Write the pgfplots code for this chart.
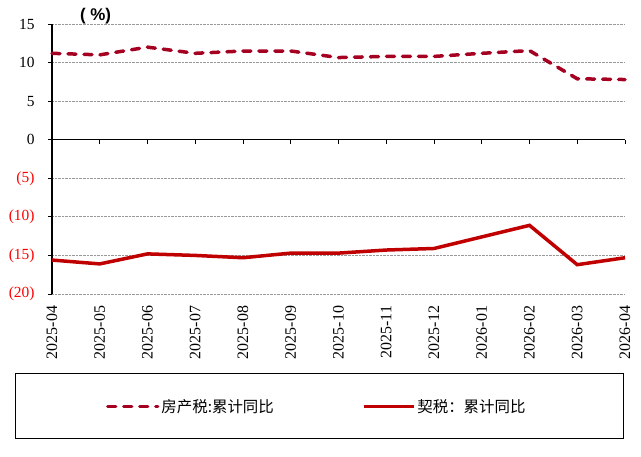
\documentclass[border=0pt]{standalone}
\usepackage{pgfplots}
\pgfplotsset{compat=1.18}
\usepackage{fontspec}
\setmainfont{Liberation Serif}
\newfontfamily\cjk{Noto Sans CJK SC}
\newfontfamily\arialf{Liberation Sans}
\definecolor{dred}{HTML}{A50021}
\definecolor{sred}{HTML}{C00000}
\begin{document}
\begin{tikzpicture}
\path (0,0) rectangle (641bp,457bp);
\draw[line width=1bp] (15bp,18bp) rectangle (623bp,83bp);
\begin{axis}[
  at={(52bp,163bp)}, anchor=south west, scale only axis,
  width=573bp, height=270bp,
  xmin=0, xmax=12, ymin=-20, ymax=15,
  axis x line*=middle, axis y line*=left,
  hide obscured x ticks=false, hide obscured y ticks=false,
  axis line style={line width=1.2bp, black},
  xtick={0,...,12},
  xticklabels={2025-04,2025-05,2025-06,2025-07,2025-08,2025-09,2025-10,2025-11,2025-12,2026-01,2026-02,2026-03,2026-04},
  xticklabel style={rotate=90, anchor=east, font=\fontsize{16}{18}\selectfont, inner sep=1bp},
  xticklabel shift=161bp,
  xtick align=outside,
  ytick={-20,-15,-10,-5,0,5,10,15},
  yticklabels={{\textcolor{red}{(20)}},{\textcolor{red}{(15)}},{\textcolor{red}{(10)}},{\textcolor{red}{(5)}},0,5,10,15},
  yticklabel style={font=\fontsize{15.5}{17}\selectfont, xshift=-10bp},
  ytick align=outside,
  major tick length=4bp,
  tick style={black, line width=1bp},
  ymajorgrids,
  major grid style={densely dotted, gray!80, line width=0.9bp},
  legend columns=2,
  legend style={draw=none, fill=none, at={(axis description cs:0.462,-0.4167)}, anchor=center,
     font=\fontsize{15.5}{17}\selectfont, /tikz/every even column/.append style={column sep=86bp}},
  legend image code/.code={\draw[#1] (0bp,0bp) -- (50bp,0bp);},
  clip=false,
]
\addplot[dred, line width=3.5bp, line cap=round, dash pattern=on 8bp off 8bp] coordinates {
(0,11.2) (1,11.0) (2,12.0) (3,11.2) (4,11.5) (5,11.5) (6,10.65) (7,10.8) (8,10.8) (9,11.2) (10,11.55) (11,7.9) (12,7.8)};
\addlegendentry{\cjk 房产税:累计同比}
\addplot[sred, line width=3.5bp] coordinates {
(0,-15.6) (1,-16.1) (2,-14.8) (3,-15.0) (4,-15.3) (5,-14.7) (6,-14.7) (7,-14.3) (8,-14.1) (9,-12.6) (10,-11.1) (11,-16.2) (12,-15.3)};
\addlegendentry{\cjk 契税：累计同比}
\node[font=\arialf\bfseries\fontsize{17}{19}\selectfont] at (rel axis cs:0.076,1.03) {( \%)};
\end{axis}
\end{tikzpicture}
\end{document}
